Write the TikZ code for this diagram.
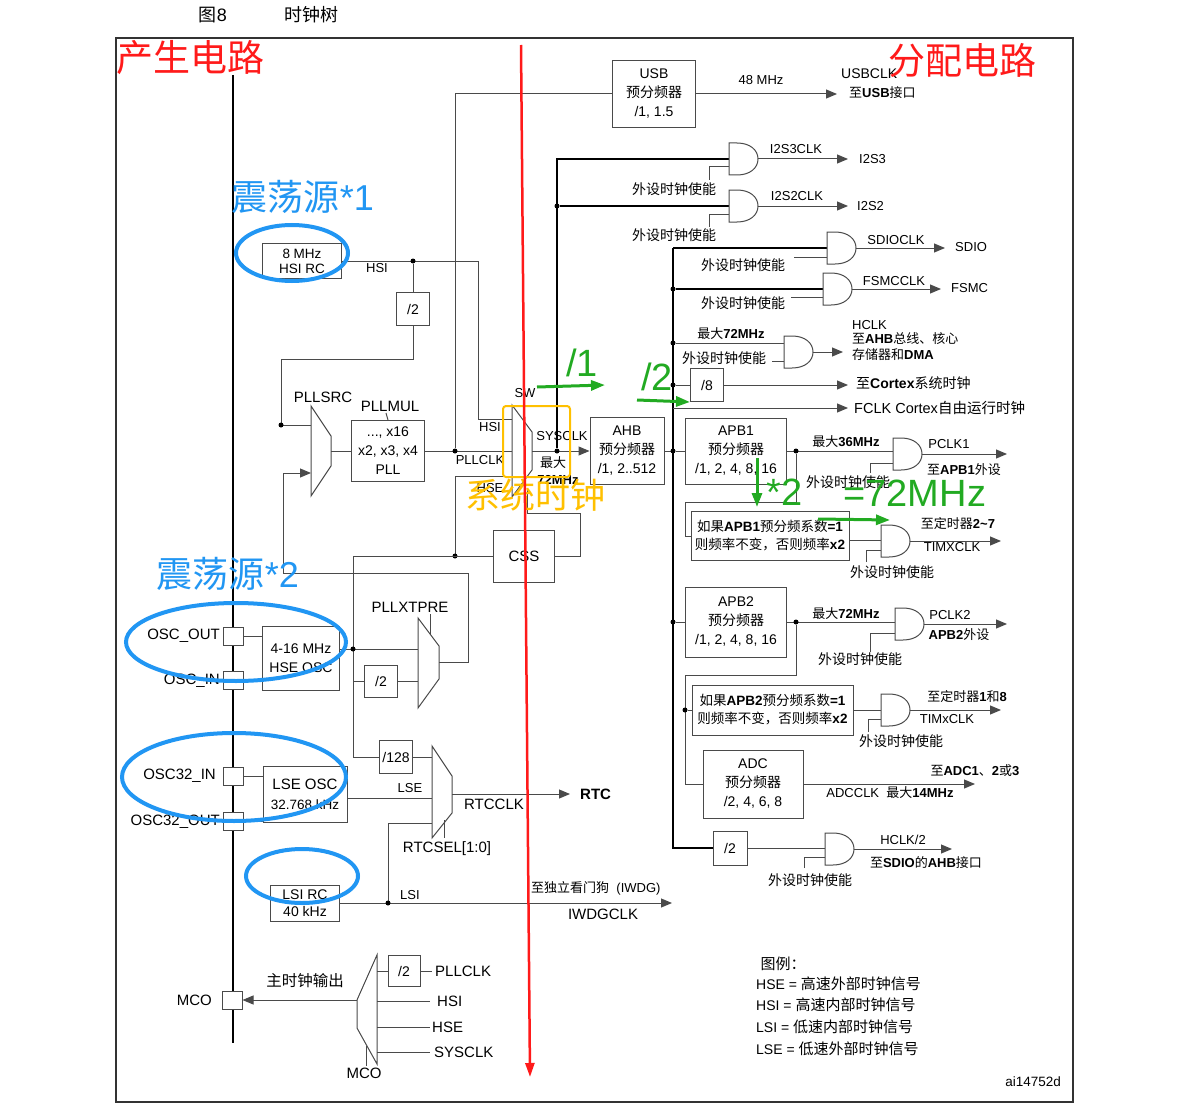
\documentclass[tikz,border=0pt]{standalone}
\usepackage{fontspec}
\setmainfont{Liberation Sans}
\newfontfamily\cjk{Noto Sans CJK SC}
\usetikzlibrary{arrows.meta}
\definecolor{lc}{HTML}{4A4A4A}
\definecolor{annblue}{HTML}{2196F3}
\definecolor{annred}{HTML}{FF1A1A}
\definecolor{annorange}{HTML}{FFC000}
\definecolor{anngreen}{HTML}{22AA22}
\newcommand\fs[2]{\fontsize{#1}{#2}\selectfont}
\newcommand\zh[1]{{\cjk #1}}
\newcommand\andg[3]{% name, x, y
  \draw[gate] (#2,#3-16) -- (#2+8,#3-16) .. controls (#2+21,#3-16) and (#2+29,#3-9) .. (#2+29,#3)
     .. controls (#2+29,#3+9) and (#2+21,#3+16) .. (#2+8,#3+16) -- (#2,#3+16) -- cycle;
  \coordinate (#1) at (#2+29,#3);}
\tikzset{
  wire/.style={draw=lc, line width=1pt},
  busw/.style={draw=black, line width=2pt},
  arr/.style={draw=lc, line width=1pt, -{Triangle[length=11pt,width=9pt]}},
  blk/.style={draw=lc, line width=1pt, fill=white, inner sep=0pt, align=center, font=\fs{14}{19}},
  pin/.style={draw=lc, line width=1pt, fill=white, minimum width=20pt, minimum height=18pt, inner sep=0pt},
  dot/.style={circle, fill=black, inner sep=0pt, minimum size=5pt},
  lbl/.style={font=\fs{13}{16}, inner sep=1pt},
  big/.style={font=\fs{15}{17}, inner sep=1pt},
  sm/.style={font=\fs{13}{14}, inner sep=1pt},
  gate/.style={draw=lc, line width=1pt, fill=white},
  ell/.style={draw=annblue, line width=4pt},
  garr/.style={draw=anngreen, line width=3pt, -{Triangle[length=14pt,width=10pt]}},
}
\begin{document}
\begin{tikzpicture}[x=1pt,y=-1pt]
\useasboundingbox (0,0) rectangle (1189,1113);
\fill[white] (0,0) rectangle (1189,1113);
% frame and titles
\draw[draw=black!80, line width=1.5pt] (116,38) rectangle (1073,1102);
\node[font=\fs{18}{20}] (t8) at (213,15) {\zh{图}8};
\node[font=\fs{18}{20}\cjk] (tt) at (311,15) {时钟树};
% pin bar
\draw[line width=2.2pt] (233,75) -- (233,1043);

% ---------- boxes
\node[blk, minimum width=83pt, minimum height=67pt] (usb) at (654,94) {USB\\\zh{预分频器}\\/1, 1.5};
\node[blk, font=\fs{13.5}{15}, minimum width=79pt, minimum height=35pt] (hsirc) at (302,261) {8 MHz\\HSI RC};
\node[blk, minimum width=33pt, minimum height=33pt] (d2a) at (413,309) {/2};
\node[blk, minimum width=73pt, minimum height=61pt] (pll) at (388,451) {..., x16\\x2, x3, x4\\PLL};
\node[blk, minimum width=74pt, minimum height=67pt] (ahb) at (627,451) {AHB\\\zh{预分频器}\\/1, 2..512};
\node[blk, font=\fs{15}{19}, minimum width=61pt, minimum height=52pt] (css) at (524,556) {CSS};
\node[blk, minimum width=77pt, minimum height=64pt] (hse) at (301,658) {4-16 MHz\\HSE OSC};
\node[blk, minimum width=33pt, minimum height=32pt] (d2b) at (381,681) {/2};
\node[blk, minimum width=33pt, minimum height=33pt] (d128) at (396,757) {/128};
\node[blk, font=\fs{15}{20}, minimum width=84pt, minimum height=56pt] (lse) at (305,794) {LSE OSC\\{\fs{13.5}{20}32.768 kHz}};
\node[blk, minimum width=69pt, minimum height=36pt, font=\fs{14}{17}] (lsi) at (305,903) {LSI RC\\40 kHz};
\node[blk, minimum width=32pt, minimum height=31pt] (d2m) at (404,971) {/2};
\node[blk, minimum width=33pt, minimum height=33pt] (d8) at (707,385) {/8};
\node[blk, minimum width=101pt, minimum height=66pt] (apb1) at (736,451) {APB1\\\zh{预分频器}\\/1, 2, 4, 8, 16};
\node[blk, font=\fs{13.5}{18}, minimum width=158pt, minimum height=49pt] (t1) at (770,536)
  {\zh{如果}\textbf{APB1}\zh{预分频系数}\textbf{=1}\\\zh{则频率不变，否则频率}\textbf{x2}};
\node[blk, minimum width=101pt, minimum height=70pt] (apb2) at (736,622) {APB2\\\zh{预分频器}\\/1, 2, 4, 8, 16};
\node[blk, font=\fs{13.5}{18}, minimum width=161pt, minimum height=50pt] (t2) at (772.5,710)
  {\zh{如果}\textbf{APB2}\zh{预分频系数}\textbf{=1}\\\zh{则频率不变，否则频率}\textbf{x2}};
\node[blk, minimum width=100pt, minimum height=68pt] (adc) at (753,784) {ADC\\\zh{预分频器}\\/2, 4, 6, 8};
\node[blk, minimum width=34pt, minimum height=34pt] (d2h) at (730,848) {/2};
% pins
\node[pin] (oscout) at (233,636) {};
\node[pin] (oscin) at (233,680) {};
\node[pin] (o32in) at (233,776) {};
\node[pin] (o32out) at (233,821) {};
\node[pin] (mcop) at (232,1000) {};

% ---------- muxes
\draw[gate] (311,406) -- (331,436) -- (331,466) -- (311,496) -- cycle;
\coordinate (psrcout) at (331,451);
\draw[gate] (512,405) -- (532,432) -- (532,470) -- (512,497) -- cycle;
\coordinate (swout) at (532,451);
\draw[gate] (418,618) -- (439,646) -- (439,679) -- (418,708) -- cycle;
\coordinate (xtout) at (439,662);
\draw[wire] (430,614) -- (430,634);
\draw[gate] (432,746) -- (452,776) -- (452,813) -- (432,838) -- cycle;
\coordinate (rtcout) at (452,794);
\draw[wire] (444,820) -- (444,838);
\draw[gate] (357,1000) -- (377,955) -- (377,1064) -- (357,1028) -- cycle;
\coordinate (mcoout) at (357,1000);
\draw[wire] (366,1046) -- (366,1066);

% ---------- generation wires
\draw[wire] (hsirc.east) -- (478,261) -- (478,419) -- (512,419);
\node[dot] (j1) at (413,261) {};
\draw[wire] (j1) -- (d2a.north);
\draw[wire] (d2a.south) -- (413,359) -- (281,359) -- (281,425) -- (311,425);
\node[dot] (j2) at (281,425) {};
\draw[wire] (xtout) -- (468,662) -- (468,573) -- (283,573) -- (283,473);
\draw[arr] (283,473) -- (311,473);
\draw[wire] (psrcout) -- (pll.west);
\draw[wire] (386,413) -- (pll.north);
\draw[wire] (pll.east) -- (512,451);
\node[dot] (j3) at (455,451) {};
\draw[wire] (j3) -- (455,94) -- (usb.west);
\draw[wire] (455,476) -- (512,476);
\draw[wire] (455,476) -- (455,556);
\node[dot] (j4) at (455,556) {};
\draw[wire] (353,556) -- (css.west);
\draw[wire] (353,556) -- (353,757) -- (d128.west);
\draw[wire] (339.5,649) -- (418,649);
\node[dot] (j5) at (353,649) {};
\draw[wire] (353,681) -- (d2b.west);
\draw[wire] (d2b.east) -- (418,681);
\draw[wire] (css.east) -- (580,556) -- (580,513) -- (527,513) -- (527,490);
\draw[wire] (oscout.east) -- (hse.west |- oscout);
\draw[wire] (oscin.east) -- (hse.west |- oscin);
\draw[wire] (o32in.east) -- (lse.west |- o32in);
\draw[wire] (o32out.east) -- (lse.west |- o32out);
\draw[wire] (d128.east) -- (432,757);
\draw[wire] (lse.east |- 0,798) -- (432,798);
\draw[wire] (388,903) -- (388,823) -- (432,823);
\draw[arr] (rtcout) -- (570,794);
\draw[arr] (lsi.east) -- (672,903);
\node[dot] (j6) at (388,903) {};
\draw[arr] (mcoout) -- (mcop.east);
\draw[wire] (377,971) -- (d2m.west);
\draw[wire] (d2m.east) -- (432,971);
\draw[wire] (377,1001) -- (430,1001);
\draw[wire] (377,1027) -- (430,1027);
\draw[wire] (377,1052) -- (430,1052);

% ---------- distribution
\draw[arr] (swout) -- (ahb.west);
\node[dot] (j7) at (557,451) {};
\draw[busw] (j7) -- (557,159) -- (729,159);
\node[dot] (j8) at (557,206) {};
\draw[busw] (j8) -- (729,206);
\draw[arr] (usb.east) -- (837,94);
\draw[wire] (ahb.east) -- (673,451);
\draw[busw] (673,248) -- (673,848) -- (d2h.west);
\draw[busw] (673,248) -- (827,248);
\node[dot] (j9) at (673,289) {};
\draw[busw] (j9) -- (823,289);
\node[dot] (j10) at (673,343) {};
\draw[wire] (j10) -- (784,343);
\node[dot] (j11) at (673,385) {};
\draw[wire] (j11) -- (d8.west);
\draw[arr] (d8.east) -- (848,385);
\draw[arr] (673,408) -- (848,408);
\node[dot] (j12) at (673,451) {};
\draw[wire] (j12) -- (apb1.west);
\node[dot] (j13) at (673,622) {};
\draw[wire] (j13) -- (apb2.west);
\draw[wire] (apb1.east) -- (893,451);
\node[dot] (j14) at (796,451) {};
\draw[wire] (j14) -- (796,502) -- (685,502) -- (685,536) -- (t1.west);
\draw[wire] (t1.east |- 0,540) -- (881,540);
\draw[wire] (apb2.east) -- (895,622);
\node[dot] (j15) at (796,622) {};
\draw[wire] (j15) -- (796,675) -- (685,675) -- (685,784) -- (adc.west);
\node[dot] (j16) at (685,710) {};
\draw[wire] (j16) -- (t2.west);
\draw[wire] (t2.east) -- (881,710);
\draw[arr] (adc.east) -- (975,784);
\draw[wire] (d2h.east) -- (825,848);

% gates
\andg{g1}{729}{159}
\andg{g2}{729}{206}
\andg{g3}{827}{248}
\andg{g4}{823}{289}
\andg{g5}{784}{352}
\andg{g6}{893}{454}
\andg{g7}{881}{541}
\andg{g8}{895}{624}
\andg{g9}{881}{710}
\andg{g10}{825}{849}
% enables
\draw[wire] (709,180) -- (709,167) -- (729,167);
\draw[wire] (709,227) -- (709,214) -- (729,214);
\draw[wire] (794,257) -- (827,257);
\draw[wire] (791,297) -- (823,297);
\draw[wire] (772,361) -- (784,361);
\draw[wire] (870,473) -- (870,463) -- (893,463);
\draw[wire] (866,562) -- (866,550) -- (881,550);
\draw[wire] (870,652) -- (870,633) -- (895,633);
\draw[wire] (868,732) -- (868,719) -- (881,719);
\draw[wire] (804,868) -- (804,857) -- (825,857);
% gate outputs
\draw[arr] (g1) -- (848,159);
\draw[arr] (g2) -- (848,206);
\draw[arr] (g3) -- (945,248);
\draw[arr] (g4) -- (941,289);
\draw[arr] (g5) -- (843,352);
\draw[arr] (g6) -- (1007,454);
\draw[arr] (g7) -- (1001,541);
\draw[arr] (g8) -- (1007,624);
\draw[arr] (g9) -- (1001,710);
\draw[arr] (g10) -- (952,849);

% ---------- labels (generation)
\node[sm] at (377,268) {HSI};
\node[big] at (323,397) {PLLSRC};
\node[big] at (390,406) {PLLMUL};
\node[sm] at (490,427) {HSI};
\node[sm] at (480,460) {PLLCLK};
\node[sm] at (490,488) {HSE};
\node[lbl] at (525,393) {SW};
\node[lbl] at (562,436) {SYSCLK};
\node[lbl, font=\fs{13}{16}\cjk] at (553,463) {最大};
\node[lbl, font=\fs{13}{16}\bfseries] at (558,480) {72MHz};
\node[big] at (410,607) {PLLXTPRE};
\node[big, anchor=east] at (221,636) {OSC\_OUT};
\node[big, anchor=east] at (221,681) {OSC\_IN};
\node[big, anchor=east] at (217,776) {OSC32\_IN};
\node[big, anchor=east] at (221,822) {OSC32\_OUT};
\node[sm] at (410,788) {LSE};
\node[big] at (494,804) {RTCCLK};
\node[lbl, font=\fs{15}{17}\bfseries, anchor=west] at (579,794) {RTC};
\node[big] at (447,849) {RTCSEL[1:0]};
\node[sm] at (410,895) {LSI};
\node[sm, anchor=west] at (530,888) {\zh{至独立看门狗}\ \ (IWDG)};
\node[big] at (603,914) {IWDGCLK};
\node[lbl, font=\fs{15.5}{17}\cjk] at (305,981) {主时钟输出};
\node[big, anchor=east] at (213,1000) {MCO};
\node[big, anchor=west] at (434,971) {PLLCLK};
\node[big, anchor=west] at (436,1001) {HSI};
\node[big, anchor=west] at (431,1027) {HSE};
\node[big, anchor=west] at (433,1052) {SYSCLK};
\node[big] at (364,1073) {MCO};

% ---------- labels (distribution)
\node[lbl] at (761,80) {48 MHz};
\node[lbl, font=\fs{14}{16}, anchor=west] at (840,74) {USBCLK};
\node[lbl, anchor=west] at (848,93) {\zh{至}\textbf{USB}\zh{接口}};
\node[lbl] at (796,149) {I2S3CLK};
\node[lbl, anchor=west] at (858,159) {I2S3};
\node[lbl] at (797,196) {I2S2CLK};
\node[lbl, anchor=west] at (856,206) {I2S2};
\node[lbl] at (896,240) {SDIOCLK};
\node[lbl, anchor=west] at (954,247) {SDIO};
\node[lbl] at (894,281) {FSMCCLK};
\node[lbl, anchor=west] at (950,288) {FSMC};
\node[lbl] at (731,334) {\zh{最大}\textbf{72MHz}};
\node[lbl, anchor=west] at (851,325) {HCLK};
\node[lbl, anchor=west] at (851,339) {\zh{至}\textbf{AHB}\zh{总线、核心}};
\node[lbl, anchor=west] at (851,355) {\zh{存储器和}\textbf{DMA}};
\node[lbl, font=\fs{14}{16}, anchor=west] at (855,383) {\zh{至}\textbf{Cortex}\zh{系统时钟}};
\node[lbl, font=\fs{14.5}{16}, anchor=west] at (853,408) {FCLK Cortex\zh{自由运行时钟}};
\node[lbl] at (846,442) {\zh{最大}\textbf{36MHz}};
\node[lbl] at (949,444) {PCLK1};
\node[lbl] at (964,470) {\zh{至}\textbf{APB1}\zh{外设}};
\node[lbl] at (958,524) {\zh{至定时器}\textbf{2\textasciitilde7}};
\node[lbl] at (952,547) {TIMXCLK};
\node[lbl] at (846,614) {\zh{最大}\textbf{72MHz}};
\node[lbl] at (950,615) {PCLK2};
\node[lbl] at (959,635) {\textbf{APB2}\zh{外设}};
\node[lbl] at (967,697) {\zh{至定时器}\textbf{1}\zh{和}\textbf{8}};
\node[lbl] at (947,719) {TIMxCLK};
\node[lbl] at (975,771) {\zh{至}\textbf{ADC1}\zh{、}\textbf{2}\zh{或}\textbf{3}};
\node[lbl] at (890,793) {ADCCLK\ \ \zh{最大}\textbf{14MHz}};
\node[lbl] at (903,840) {HCLK/2};
\node[lbl] at (926,863) {\zh{至}\textbf{SDIO}\zh{的}\textbf{AHB}\zh{接口}};
% enable labels
\foreach \p in {(674,189),(674,235),(743,265),(743,303),(724,358),(848,482),(892,572),(860,659),(901,741),(810,880)}
  \node[lbl, font=\fs{14}{16}\cjk] at \p {外设时钟使能};
% legend
\node[lbl, font=\fs{15}{16}\cjk] at (783,964) {图例：};
\node[lbl, font=\fs{14}{16}, anchor=west] at (755,984) {HSE = \zh{\fs{15}{16}高速外部时钟信号}};
\node[lbl, font=\fs{14}{16}, anchor=west] at (755,1005) {HSI = \zh{\fs{15}{16}高速内部时钟信号}};
\node[lbl, font=\fs{14}{16}, anchor=west] at (755,1027) {LSI = \zh{\fs{15}{16}低速内部时钟信号}};
\node[lbl, font=\fs{14}{16}, anchor=west] at (755,1049) {LSE = \zh{\fs{15}{16}低速外部时钟信号}};
\node[lbl, font=\fs{13.5}{15}, anchor=east] at (1062,1082) {ai14752d};

% ---------- annotations
\node[text=annred, font=\fs{37}{40}\cjk] (ra) at (190,58) {产生电路};
\node[text=annred, font=\fs{37}{40}\cjk] (rb) at (962,60) {分配电路};
\node[text=annblue, font=\fs{36}{40}] (b1) at (303,197) {\zh{震荡源}*1};
\node[text=annblue, font=\fs{36}{40}] (b2) at (228,574) {\zh{震荡源}*2};
\draw[ell] (292,253) ellipse [x radius=56, y radius=28];
\draw[ell] (236,642) ellipse [x radius=110, y radius=39];
\draw[ell] (234,777) ellipse [x radius=112, y radius=44];
\draw[ell] (302,876) ellipse [x radius=56, y radius=27];
\draw[draw=annorange, line width=2pt, rounded corners=3pt] (503,406) rectangle (570,477);
\node[text=annorange, font=\fs{35}{38}\cjk] (sys) at (535,495) {系统时钟};
\node[text=anngreen, font=\fs{38}{40}] (g1t) at (582,363) {/1};
\node[text=anngreen, font=\fs{38}{40}] (g2t) at (657,377) {/2};
\draw[garr] (537,387) -- (605,385);
\draw[garr] (637,400) -- (690,402);
\draw[garr] (757,458) -- (757,507);
\node[text=anngreen, font=\fs{38}{40}, anchor=west] (g3t) at (763,492) {*2};
\node[text=anngreen, font=\fs{38}{40}, anchor=west] (g4t) at (840,493) {=72MHz};
\draw[garr] (818,519) -- (890,520);
\draw[draw=annred, line width=2.5pt, -{Triangle[length=14pt,width=9pt]}] (521,45) -- (530,1077);
\end{tikzpicture}
\end{document}
